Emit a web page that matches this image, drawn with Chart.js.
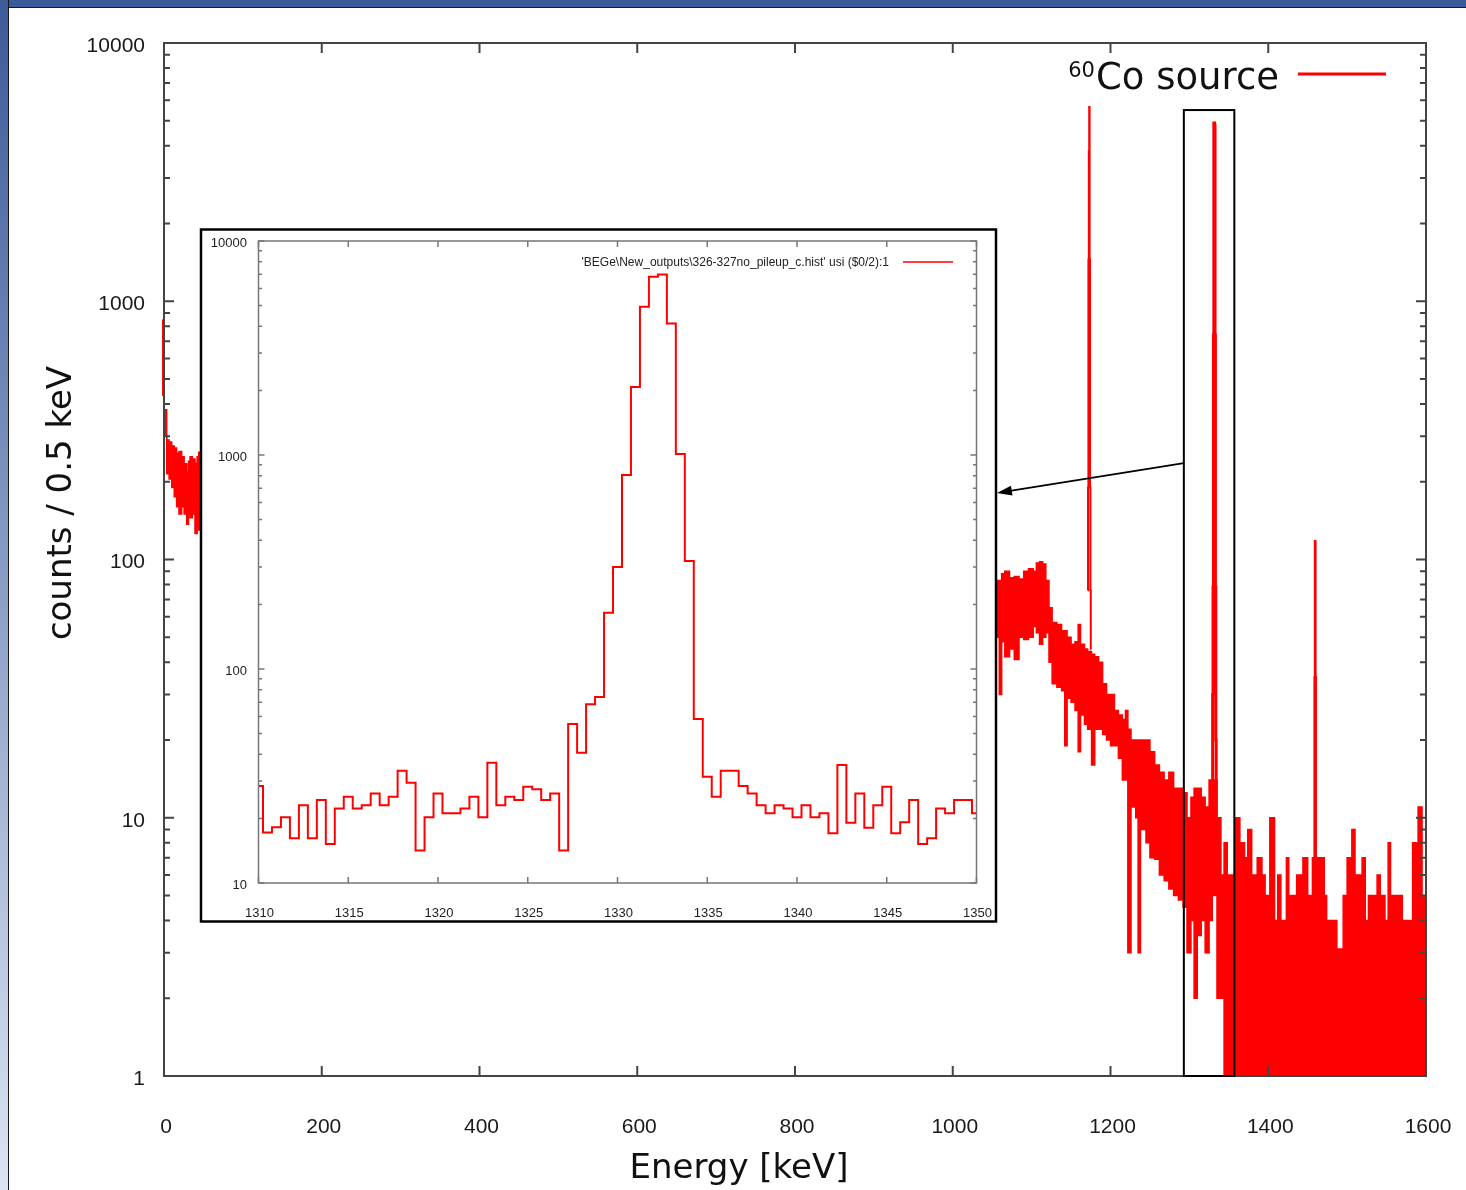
<!DOCTYPE html>
<html>
<head>
<meta charset="utf-8">
<title>60Co spectrum</title>
<script src="https://cdn.jsdelivr.net/npm/chart.js@4.4.1/dist/chart.umd.min.js"></script>
<style>
  html, body { margin: 0; padding: 0; }
  body { width: 1466px; height: 1190px; position: relative; overflow: hidden; background: #fff; }
  #topbar { position: absolute; left: 0; top: 0; width: 1466px; height: 7px; background: #3c5b9a; border-bottom: 1px solid #1a1a1a; }
  #sidebar { position: absolute; left: 0; top: 0; width: 8px; height: 1190px; background: linear-gradient(#3c5b9a, #dbe4f3); border-right: 1px solid #1a1a1a; }
  #main { position: absolute; left: 0; top: 0; }
  #inset { position: absolute; left: 199px; top: 227px; }
</style>
</head>
<body>
<div id="topbar"></div>
<div id="sidebar"></div>
<canvas id="main" width="1466" height="1190"></canvas>
<canvas id="inset" width="800" height="699"></canvas>
<script>
const RED = '#ff0000';

// main spectrum: the 0.5 keV histogram is too dense to draw bin by bin,
// so it is kept as the upper and lower edge of the noisy band (left bin edges, keV)
const envEnergy = [0, 3.4, 6.5, 9.8, 13, 16, 19, 22.4, 25.5, 28.8, 31, 33, 36, 39.3, 42, 44,
  47, 80, 150, 250, 350, 450, 550, 650, 750, 850, 950, 1000, 1040,
  1050, 1055, 1059, 1062, 1066, 1072, 1078, 1084, 1090, 1096, 1102, 1106, 1110, 1114, 1118,
  1122, 1126, 1132, 1138, 1142, 1145, 1150, 1155, 1159, 1162, 1167, 1171, 1176, 1180, 1185,
  1190, 1195, 1200, 1205, 1210, 1215, 1219, 1222, 1226, 1232, 1235, 1238, 1245, 1250, 1256,
  1262, 1268, 1274, 1280, 1286, 1292, 1297, 1302, 1306, 1310, 1315, 1320, 1325, 1329, 1335,
  1340, 1344, 1348, 1352, 1356, 1358, 1364, 1370, 1374, 1379, 1386, 1392, 1396, 1402, 1408,
  1412, 1416, 1423, 1426, 1436, 1444, 1450, 1456, 1463, 1471, 1474, 1487, 1495, 1500, 1506,
  1510, 1519, 1523, 1527, 1538, 1542, 1548, 1552, 1555, 1570, 1583, 1590, 1595, 1600];
const envUpper = [380, 290, 285, 275, 270, 258, 262, 250, 235, 218, 240, 250, 245, 236, 250, 260,
  250, 230, 210, 180, 160, 150, 140, 130, 115, 105, 100, 95, 90,
  85, 83, 83, 88, 90, 85, 86, 84, 90, 92, 90, 97, 98, 96, 83,
  65, 57, 56, 53, 53, 50, 47, 48, 56, 47, 45, 44, 43, 42, 40,
  33, 30, 30, 26, 25, 24, 26, 22, 20, 20, 20, 20, 20, 18, 16,
  15, 14, 15, 13, 13, 12.5, 10, 12, 13, 13, 12, 11, 14, 14, 10,
  6, 8, 6, 6, 6, 10, 8, 7, 9, 6, 7, 6, 5, 10, 4,
  6, 4, 7, 5, 6, 7, 5, 7, 7, 5, 4, 3.1, 5, 7, 9,
  6, 7, 4, 5, 6, 5, 4, 8, 5, 4, 8, 11, 5, 5];
const envLower = [300, 215, 205, 190, 175, 160, 150, 160, 150, 137, 150, 145, 150, 126, 135, 130,
  140, 150, 140, 120, 110, 100, 95, 90, 80, 70, 65, 60, 55,
  48, 50, 30, 48, 42, 45, 41, 50, 49, 50, 55, 52, 47, 50, 52,
  40, 33, 32, 31, 19, 29, 28, 26, 18, 25, 23, 22, 16, 22, 22,
  21, 20, 19, 19, 17, 14, 14, 3, 11, 10, 3, 9, 8, 7, 6.9,
  6, 5.7, 5.3, 5, 4.8, 4.5, 3, 4, 2, 3.5, 4, 3, 4, 5, 2,
  2, 1, 1, 1, 1, 1, 1, 1, 1, 1, 1, 1, 1, 1, 1,
  1, 1, 1, 1, 1, 1, 1, 1, 1, 1, 1, 1, 1, 1, 1,
  1, 1, 1, 1, 1, 1, 1, 1, 1, 1, 1, 1, 1, 1];

// narrow full-energy lines (left bin edges, keV / counts)
const peak1173Energy = [1171.0, 1171.5, 1172.0, 1172.5, 1173.0, 1173.5, 1174.0, 1174.5, 1175.0, 1175.5];
const peak1173Counts = [76, 190, 1450, 3800, 5650, 1450, 190, 76, 45, 45];
const peak1332Energy = [1329.0, 1329.5, 1330.0, 1330.5, 1331.0, 1331.5, 1332.0, 1332.5, 1333.0, 1333.5, 1334.0, 1334.5];
const peak1332Counts = [14, 30, 78, 740, 4900, 4900, 4800, 740, 78, 20, 10, 10];
const peak1460Energy = [1458.0, 1458.5, 1459.0, 1459.5, 1460.0, 1460.5, 1461.0, 1461.5];
const peak1460Counts = [7, 35, 118, 118, 35, 7, 5, 5];
// first channel spike, just left of 0
const spikeEnergy = [-1.2, -1.2];
const spikeCounts = [850, 430];

// inset: 1332 keV line, bin centres (keV) and counts
const insetEnergy = [1310, 1310.5, 1311, 1311.5, 1312, 1312.5, 1313, 1313.5, 1314, 1314.5,
  1315, 1315.5, 1316, 1316.5, 1317, 1317.5, 1318, 1318.5, 1319, 1319.5,
  1320, 1320.5, 1321, 1321.5, 1322, 1322.5, 1323, 1323.5, 1324, 1324.5,
  1325, 1325.5, 1326, 1326.5, 1327, 1327.5, 1328, 1328.5, 1329, 1329.5,
  1330, 1330.5, 1331, 1331.5, 1332, 1332.5, 1333, 1333.5, 1334, 1334.5,
  1335, 1335.5, 1336, 1336.5, 1337, 1337.5, 1338, 1338.5, 1339, 1339.5,
  1340, 1340.5, 1341, 1341.5, 1342, 1342.5, 1343, 1343.5, 1344, 1344.5,
  1345, 1345.5, 1346, 1346.5, 1347, 1347.5, 1348, 1348.5, 1349, 1349.5, 1350];
const insetCounts = [28.4, 17.2, 18.2, 20.3, 16.2, 23.1, 16.2, 24.4, 15.2, 22.3,
  25.3, 22.3, 23.1, 26.2, 23.1, 25.3, 33.5, 29.4, 14.2, 20.3,
  26.2, 21.2, 21.2, 22.3, 25.3, 20.3, 36.5, 23.1, 25.3, 24.4,
  28.2, 27.4, 24.4, 26.2, 14.2, 55.3, 40.6, 68.5, 74, 183,
  300, 807, 2080, 4930, 6800, 6980, 4120, 1010, 320, 58.4,
  31.4, 25.3, 33.5, 33.5, 28.4, 26.2, 23.1, 21.2, 23.1, 22.3,
  20.3, 23.1, 20.3, 21.2, 17.1, 35.6, 19.1, 26.2, 18.1, 23.1,
  28.2, 17.1, 19.2, 24.4, 15.2, 16.2, 22.3, 21.2, 24.4, 24.4, 21.2];

const mainXTicks = [0, 200, 400, 600, 800, 1000, 1200, 1400, 1600];
const mainYTicks = [1, 10, 100, 1000, 10000];
const insetXTicks = [1310, 1315, 1320, 1325, 1330, 1335, 1340, 1345, 1350];
const insetYTicks = [10, 100, 1000, 10000];

// zoom box and arrow, in keV / counts of the main chart
const zoomBoxEnergy = [1293, 1357];
const zoomBoxCounts = [1, 5500];
const arrowEnergy = [1293, 1056];
const arrowCounts = [236, 181];

const TICK_FONT = "'Liberation Sans', Arial, sans-serif";
const TITLE_FONT = "'DejaVu Sans', sans-serif";

function pts(xs, ys) {
    return xs.map((v, i) => ({ x: v, y: ys[i] }));
}

// keep the plot area exactly where the layout padding puts it
function noEdgePadding(s) {
    s.paddingLeft = 0;
    s.paddingRight = 0;
    s.paddingTop = 0;
    s.paddingBottom = 0;
}

// gnuplot style frame with inward ticks on all four sides
const frameTicks = {
    id: 'frameTicks',
    afterDatasetsDraw(chart, args, o) {
        const { ctx, chartArea: a, scales: { x, y } } = chart;
        ctx.save();
        ctx.strokeStyle = o.color;
        ctx.lineWidth = o.width;
        ctx.beginPath();
        x.ticks.forEach(t => {
            const px = x.getPixelForValue(t.value);
            ctx.moveTo(px, a.bottom);
            ctx.lineTo(px, a.bottom - o.major);
            ctx.moveTo(px, a.top);
            ctx.lineTo(px, a.top + o.major);
        });
        const lo = Math.round(Math.log10(y.min)), hi = Math.round(Math.log10(y.max));
        for (let d = lo; d <= hi; d++) {
            for (let m = 1; m < 10; m++) {
                const v = m * Math.pow(10, d);
                if (v > y.max * 1.0001) break;
                const py = y.getPixelForValue(v);
                const len = m === 1 ? o.major : o.minor;
                ctx.moveTo(a.left, py);
                ctx.lineTo(a.left + len, py);
                ctx.moveTo(a.right, py);
                ctx.lineTo(a.right - len, py);
            }
        }
        ctx.stroke();
        ctx.strokeRect(a.left, a.top, a.right - a.left, a.bottom - a.top);
        ctx.restore();
    }
};

const mainDecor = {
    id: 'mainDecor',
    afterDraw(chart) {
        const { ctx, scales: { x, y } } = chart;
        ctx.save();

        // box around the 1332 keV line
        const bx0 = x.getPixelForValue(zoomBoxEnergy[0]);
        const bx1 = x.getPixelForValue(zoomBoxEnergy[1]);
        const byTop = y.getPixelForValue(zoomBoxCounts[1]);
        const byBot = y.getPixelForValue(zoomBoxCounts[0]);
        ctx.strokeStyle = '#000';
        ctx.lineWidth = 2;
        ctx.strokeRect(bx0, byTop, bx1 - bx0, byBot - byTop);

        // arrow towards the inset
        const ax0 = x.getPixelForValue(arrowEnergy[0]), ay0 = y.getPixelForValue(arrowCounts[0]);
        const ax1 = x.getPixelForValue(arrowEnergy[1]), ay1 = y.getPixelForValue(arrowCounts[1]);
        const ang = Math.atan2(ay1 - ay0, ax1 - ax0);
        const c = Math.cos(ang), s = Math.sin(ang);
        ctx.lineWidth = 1.8;
        ctx.beginPath();
        ctx.moveTo(ax0, ay0);
        ctx.lineTo(ax1 - c * 10, ay1 - s * 10);
        ctx.stroke();
        ctx.fillStyle = '#000';
        ctx.beginPath();
        ctx.moveTo(ax1, ay1);
        ctx.lineTo(ax1 - c * 15 - s * 5, ay1 - s * 15 + c * 5);
        ctx.lineTo(ax1 - c * 15 + s * 5, ay1 - s * 15 - c * 5);
        ctx.closePath();
        ctx.fill();

        // legend
        ctx.fillStyle = '#111';
        ctx.textAlign = 'right';
        ctx.textBaseline = 'alphabetic';
        ctx.font = '37px ' + TITLE_FONT;
        ctx.fillText('Co source', 1279, 89);
        const w = ctx.measureText('Co source').width;
        ctx.font = '21px ' + TITLE_FONT;
        ctx.fillText('60', 1279 - w - 1, 77);
        ctx.strokeStyle = RED;
        ctx.lineWidth = 3;
        ctx.beginPath();
        ctx.moveTo(1298, 74);
        ctx.lineTo(1386, 74);
        ctx.stroke();

        // axis titles
        ctx.font = '34px ' + TITLE_FONT;
        ctx.textAlign = 'center';
        ctx.fillText('Energy [keV]', 739, 1178);
        ctx.translate(71, 503);
        ctx.rotate(-Math.PI / 2);
        ctx.fillText('counts / 0.5 keV', 0, 0);
        ctx.restore();
    }
};

const insetDecor = {
    id: 'insetDecor',
    beforeDraw(chart) {
        const ctx = chart.ctx;
        ctx.save();
        ctx.fillStyle = '#fff';
        ctx.fillRect(2, 2.5, 795, 692);
        ctx.restore();
    },
    afterDraw(chart) {
        const ctx = chart.ctx;
        ctx.save();
        ctx.strokeStyle = '#000';
        ctx.lineWidth = 2.5;
        ctx.strokeRect(2, 2.5, 795, 692);
        ctx.fillStyle = '#222';
        ctx.font = '12px ' + TICK_FONT;
        ctx.textAlign = 'right';
        ctx.textBaseline = 'middle';
        ctx.fillText("'BEGe\\New_outputs\\326-327no_pileup_c.hist' usi ($0/2):1", 690, 36);
        ctx.strokeStyle = RED;
        ctx.lineWidth = 1.5;
        ctx.beginPath();
        ctx.moveTo(704, 35);
        ctx.lineTo(754, 35);
        ctx.stroke();
        ctx.restore();
    }
};

const stepLine = {
    borderColor: RED,
    backgroundColor: RED,
    pointRadius: 0,
    borderWidth: 1.5,
    stepped: true,
    fill: false,
    clip: { left: 4, top: 0, right: 0, bottom: 0 }
};

new Chart(document.getElementById('main'), {
    type: 'line',
    data: {
        datasets: [
            { ...stepLine, label: 'upper', data: pts(envEnergy, envUpper) },
            { ...stepLine, label: 'lower', data: pts(envEnergy, envLower), fill: '-1' },
            { ...stepLine, label: '1173 keV', data: pts(peak1173Energy, peak1173Counts), borderWidth: 2 },
            { ...stepLine, label: '1332 keV', data: pts(peak1332Energy, peak1332Counts), borderWidth: 3 },
            { ...stepLine, label: '1460 keV', data: pts(peak1460Energy, peak1460Counts), borderWidth: 2 },
            { ...stepLine, label: 'channel 0', data: pts(spikeEnergy, spikeCounts), stepped: false, borderWidth: 2 }
        ]
    },
    options: {
        responsive: false,
        animation: false,
        layout: { padding: { left: 0, top: 43, right: 40, bottom: 0 } },
        plugins: {
            legend: { display: false },
            tooltip: { enabled: false },
            frameTicks: { color: '#444', width: 2, major: 10, minor: 6 }
        },
        scales: {
            x: {
                type: 'linear',
                min: 0,
                max: 1600,
                afterBuildTicks: s => { s.ticks = mainXTicks.map(v => ({ value: v })); },
                afterFit: s => { s.height = 114; noEdgePadding(s); },
                grid: { display: false, drawTicks: false },
                border: { display: false },
                ticks: { font: { family: TICK_FONT, size: 21 }, color: '#1a1a1a', padding: 39, labelOffset: 2, maxRotation: 0, autoSkip: false, callback: v => String(v) }
            },
            y: {
                type: 'logarithmic',
                min: 1,
                max: 10000,
                afterBuildTicks: s => { s.ticks = mainYTicks.map(v => ({ value: v })); },
                afterFit: s => { s.width = 164; noEdgePadding(s); },
                grid: { display: false, drawTicks: false },
                border: { display: false },
                ticks: { font: { family: TICK_FONT, size: 21 }, color: '#1a1a1a', padding: 19, labelOffset: 3, callback: v => String(v) }
            }
        }
    },
    plugins: [frameTicks, mainDecor]
});

new Chart(document.getElementById('inset'), {
    type: 'line',
    data: {
        datasets: [{
            ...stepLine,
            label: 'inset',
            clip: 0,
            borderWidth: 2,
            // histeps: each bin is centred on its energy
            data: pts(insetEnergy.map(e => e - 0.25).concat([1350.25]), insetCounts.concat([insetCounts[insetCounts.length - 1]]))
        }]
    },
    options: {
        responsive: false,
        animation: false,
        layout: { padding: { left: 0, top: 14, right: 22.5, bottom: 0 } },
        plugins: {
            legend: { display: false },
            tooltip: { enabled: false },
            frameTicks: { color: '#777', width: 1.5, major: 6, minor: 3.5 }
        },
        scales: {
            x: {
                type: 'linear',
                min: 1310,
                max: 1350,
                afterBuildTicks: s => { s.ticks = insetXTicks.map(v => ({ value: v })); },
                afterFit: s => { s.height = 43; noEdgePadding(s); },
                grid: { display: false, drawTicks: false },
                border: { display: false },
                ticks: { font: { family: TICK_FONT, size: 13 }, color: '#222', padding: 23, labelOffset: 1, maxRotation: 0, autoSkip: false, callback: v => String(v) }
            },
            y: {
                type: 'logarithmic',
                min: 10,
                max: 10000,
                afterBuildTicks: s => { s.ticks = insetYTicks.map(v => ({ value: v })); },
                afterFit: s => { s.width = 59.5; noEdgePadding(s); },
                grid: { display: false, drawTicks: false },
                border: { display: false },
                ticks: { font: { family: TICK_FONT, size: 13 }, color: '#222', padding: 11.5, labelOffset: 2, callback: v => String(v) }
            }
        }
    },
    plugins: [frameTicks, insetDecor]
});
</script>
</body>
</html>
